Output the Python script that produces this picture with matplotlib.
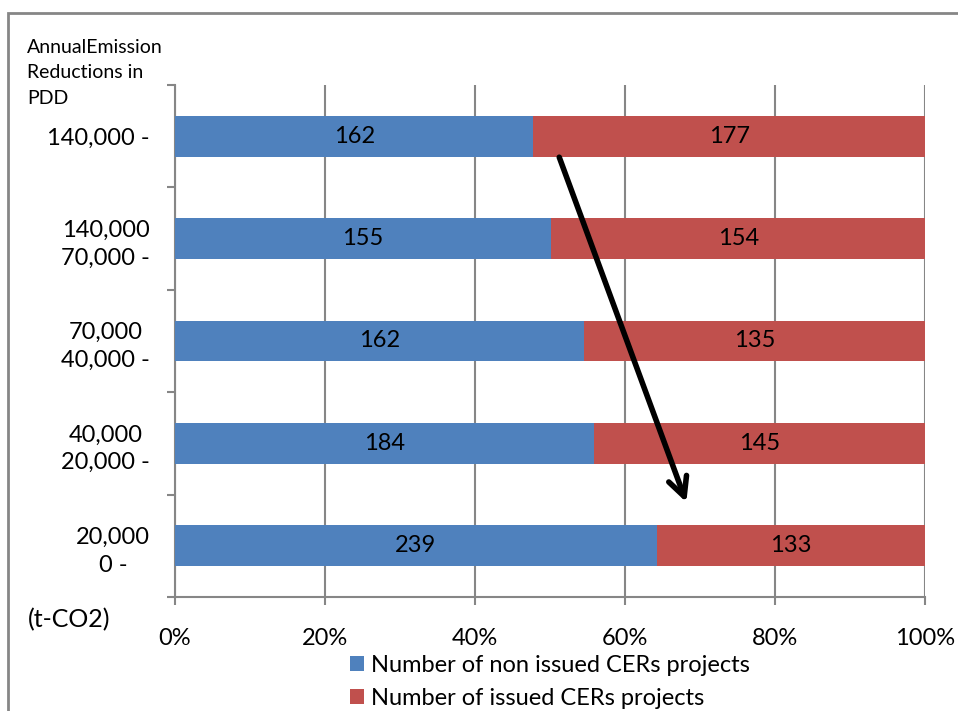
import numpy as np
import matplotlib.pyplot as plt
from matplotlib.patches import Rectangle

# categories from bottom to top
categories = ["20,000\n0 -", "40,000\n20,000 -", "70,000\n40,000 -", "140,000\n70,000 -", "140,000 -"]
non_issued = [239, 184, 162, 155, 162]
issued = [133, 145, 135, 154, 177]
x_ticks = [0, 20, 40, 60, 80, 100]
x_labels = ["0%", "20%", "40%", "60%", "80%", "100%"]

plt.rcParams['font.family'] = ['Lato', 'DejaVu Sans']

blue = "#4F81BD"
red = "#C0504D"
gray = "#868686"

fig = plt.figure(figsize=(9.58, 7.11), dpi=100)
ax = fig.add_axes([0.1827, 0.1603, 0.7829, 0.7202])

non = np.array(non_issued, dtype=float)
iss = np.array(issued, dtype=float)
tot = non + iss
p_non = non / tot * 100
p_iss = iss / tot * 100
y = np.arange(len(categories))

ax.barh(y, p_non, height=0.4, color=blue, label="Number of non issued CERs projects", zorder=3)
ax.barh(y, p_iss, left=p_non, height=0.4, color=red, label="Number of issued CERs projects", zorder=3)

for i in range(len(categories)):
    ax.text(p_non[i] / 2, y[i], str(non_issued[i]), ha='center', va='center', fontsize=17, zorder=4)
    ax.text(p_non[i] + p_iss[i] / 2, y[i], str(issued[i]), ha='center', va='center', fontsize=17, zorder=4)

ax.set_xlim(0, 100)
ax.set_ylim(-0.5, len(categories) - 0.5)
ax.set_xticks(x_ticks)
ax.set_xticklabels(x_labels, fontsize=17)
ax.tick_params(axis='x', direction='out', length=6, width=1.5, color=gray, pad=16)
ax.xaxis.grid(True, color=gray, linewidth=1.5, zorder=0)

# boundary ticks as major, labels at centres as minor
ax.set_yticks(np.arange(-0.5, len(categories), 1.0))
ax.set_yticklabels([])
ax.set_yticks(y, minor=True)
ax.set_yticklabels(categories, minor=True, fontsize=17, multialignment='center', linespacing=1.4)
ax.tick_params(axis='y', which='major', direction='out', length=6, width=1.5, color=gray)
ax.tick_params(axis='y', which='minor', length=0, pad=18)

for s in ['top', 'right']:
    ax.spines[s].set_visible(False)
for s in ['left', 'bottom']:
    ax.spines[s].set_color(gray)
    ax.spines[s].set_linewidth(1.5)

# the hand drawn arrow
ax.annotate("", xy=(68.3, 0.40), xytext=(51.1, 3.82),
            arrowprops=dict(arrowstyle='->', color='black', lw=4, mutation_scale=34),
            zorder=5)

fig.text(27 / 958, 1 - 73 / 711, "AnnualEmission\nReductions in\nPDD", fontsize=14,
         ha='left', va='center', linespacing=1.6)
fig.text(28 / 958, 1 - 620 / 711, "(t-CO2)", fontsize=18, ha='left', va='center')

fig.legend(loc='upper left', bbox_to_anchor=(350 / 958, 1 - 655 / 711), frameon=False,
           fontsize=17, handlelength=0.6, handleheight=0.6, handletextpad=0.3,
           labelspacing=0.5, borderaxespad=0, borderpad=0)

# outer frame of the chart area
fig.add_artist(Rectangle((8 / 958, -0.1), 1.2, 1 - 13 / 711 + 0.1, transform=fig.transFigure,
                         fill=False, edgecolor=gray, linewidth=2))

fig.savefig("out.png", dpi=100)
